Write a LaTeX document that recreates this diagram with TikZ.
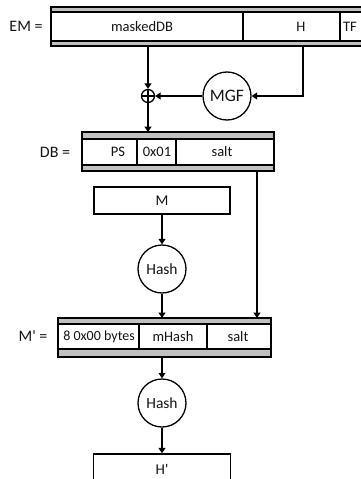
\documentclass[tikz,border=0pt]{standalone}
\usepackage{fontspec}
\setmainfont{Carlito}
\usetikzlibrary{arrows.meta}
\definecolor{band}{HTML}{C0C0C0}
\definecolor{ink}{HTML}{151515}
\begin{document}
\begin{tikzpicture}[x=1pt,y=-1pt,
  regouter/.style={draw=black,fill=band,line width=1.5pt},
  reginner/.style={draw=black,fill=white,line width=1.3pt},
  divider/.style={draw=black,line width=1.3pt},
  celltext/.style={inner sep=0pt,text=ink,font=\fontsize{14.5}{17}\selectfont},
  lbl/.style={inner sep=0pt,text=ink,font=\fontsize{16}{19}\selectfont},
  plainbox/.style={draw=black,fill=white,line width=1.5pt,inner sep=0pt,text=ink,font=\fontsize{15}{18}\selectfont},
  fn/.style={circle,draw=black,fill=white,line width=1.3pt,minimum size=48pt,inner sep=0pt,text=ink,font=\fontsize{15.5}{18}\selectfont},
  conn/.style={draw=black,line width=1.3pt,-{Triangle[length=5.5pt,width=7pt]}},
  plainline/.style={draw=black,line width=1.3pt}
]
\useasboundingbox (0,0) rectangle (361,479);
% ---------- EM register ----------
\begin{scope}
\clip (0,0) rectangle (361,479);
\draw[regouter] (51,7) rectangle (372,46);
\draw[reginner] (51,12) rectangle (372,41);
\draw[divider] (243,12) -- (243,41);
\draw[divider] (340,12) -- (340,41);
\end{scope}
\node[lbl] (lEM) at (26,26.5) {EM =};
\node[celltext] (tMasked) at (142,26.5) {maskedDB};
\node[celltext] (tH) at (301,26.5) {H};
\node[celltext] (tTF) at (350,26.5) {TF};
\coordinate (emA) at (148,46);
\coordinate (emH) at (303,46);
% ---------- XOR and MGF ----------
\node[circle,draw=black,line width=1.3pt,minimum size=13pt,inner sep=0pt,
  path picture={\draw[line width=1.1pt] (path picture bounding box.north) -- (path picture bounding box.south)
   (path picture bounding box.west) -- (path picture bounding box.east);}] (xor) at (148,96) {};
\node[fn,font=\fontsize{17.5}{20}\selectfont] (MGF) at (227,96) {MGF};
\draw[conn] (emA) -- (xor.north);
\draw[conn] (emH) |- (MGF.east);
\draw[conn] (MGF.west) -- (xor.east);
% ---------- DB register ----------
\draw[regouter] (82,132) rectangle (274,171);
\draw[reginner] (82,139) rectangle (274,165);
\draw[divider] (137,139) -- (137,165);
\draw[divider] (176,139) -- (176,165);
\node[lbl] (lDB) at (55,152) {DB =};
\node[celltext] (tPS) at (118,152) {PS};
\node[celltext] (t01) at (157,152) {0x01};
\node[celltext] (tSalt) at (222,152) {salt};
\coordinate (dbIn) at (148,132);
\coordinate (dbSalt) at (257,171);
\draw[conn] (xor.south) -- (dbIn);
% ---------- M and Hash ----------
\node[plainbox,minimum width=136pt,minimum height=27pt] (M) at (162,200.5) {M};
\node[fn] (hash1) at (162,269) {Hash};
\draw[conn] (M.south) -- (hash1.north);
% ---------- M' register ----------
\draw[regouter] (58,318) rectangle (271,357);
\draw[reginner] (58,324) rectangle (271,349);
\draw[divider] (139,324) -- (139,349);
\draw[divider] (207,324) -- (207,349);
\node[lbl] (lMp) at (33,336.5) {M\textquotesingle{} =};
\node[celltext,font=\fontsize{14}{17}\selectfont] (tZero) at (99,336.5) {8 0x00 bytes};
\node[celltext] (tmHash) at (173,336.5) {mHash};
\node[celltext] (tSalt2) at (238,336.5) {salt};
\coordinate (mpIn) at (162,318);
\coordinate (mpSalt) at (257,318);
\coordinate (mpOut) at (162,357);
\draw[conn] (hash1.south) -- (mpIn);
\draw[conn] (dbSalt) -- (mpSalt);
% ---------- Hash and H' ----------
\node[fn] (hash2) at (162,403) {Hash};
\draw[conn] (mpOut) -- (hash2.north);
\node[plainbox,minimum width=137pt,minimum height=30pt] (Hp) at (162,469) {H\textquotesingle};
\draw[conn] (hash2.south) -- (Hp.north);
\end{tikzpicture}
\end{document}
